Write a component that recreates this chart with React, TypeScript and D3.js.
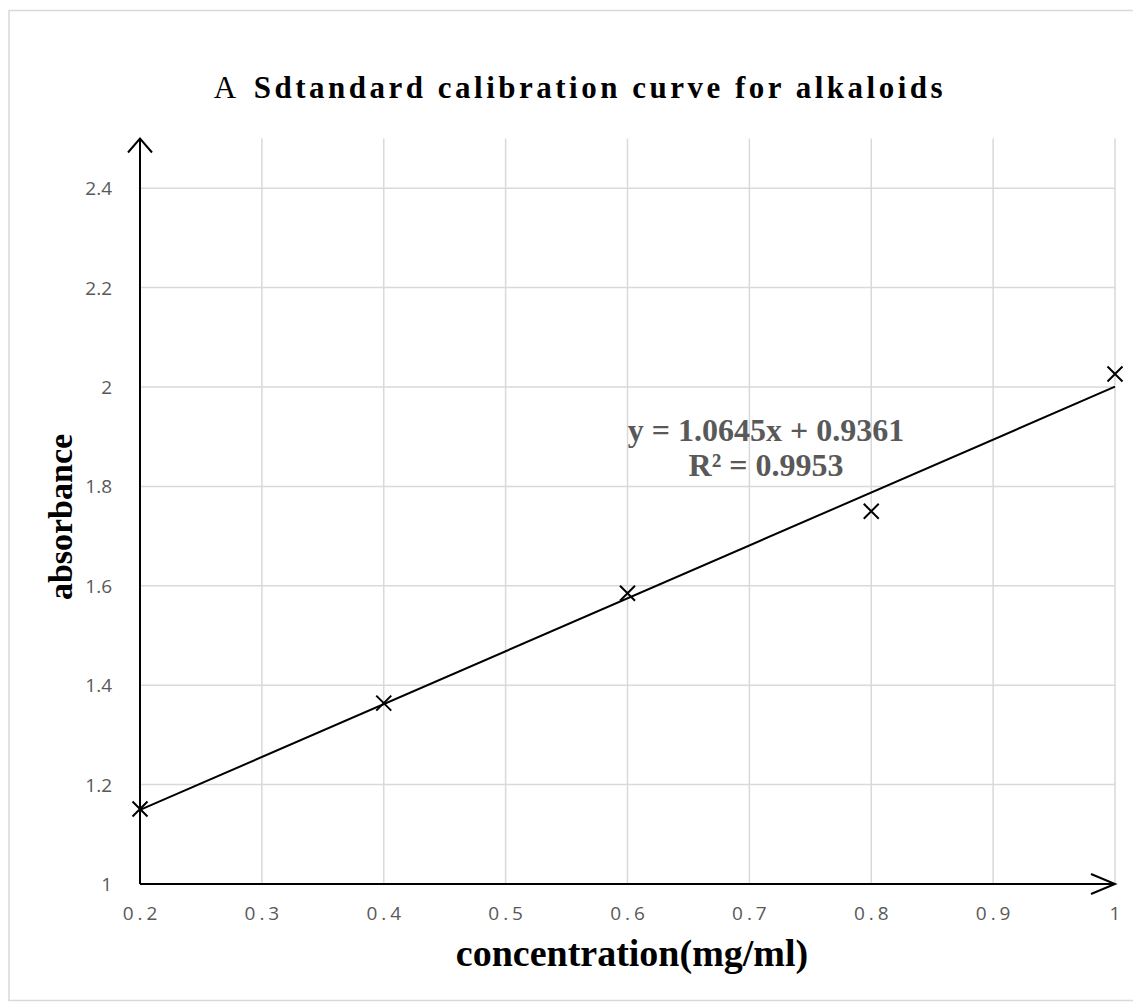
import React, { useEffect, useRef } from 'react';
import * as d3 from 'd3';

// concentration (mg/ml) and measured absorbance
const concentration = [0.2, 0.4, 0.6, 0.8, 1.0];
const absorbance = [1.151, 1.364, 1.585, 1.75, 2.026];
const xTicks = [0.2, 0.3, 0.4, 0.5, 0.6, 0.7, 0.8, 0.9, 1];
const yTicks = [1, 1.2, 1.4, 1.6, 1.8, 2, 2.2, 2.4];
const slope = 1.0645;
const intercept = 0.9361;
const rSquared = 0.9953;

const App = () => {
  const ref = useRef(null);

  useEffect(() => {
    const svg = d3.select(ref.current);
    svg.selectAll('*').remove();

    const width = 1133;
    const height = 994;
    const grid = '#d9d9d9';
    const grey = '#595959';
    const serif = '"Liberation Serif", "Times New Roman", serif';
    const sans = '"Open Sans", "Noto Sans", sans-serif';

    const x = d3.scaleLinear().domain([0.2, 1]).range([132, 1107]);
    const y = d3.scaleLinear().domain([1, 2.5]).range([876, 130.5]);

    // chart border
    svg.append('rect')
      .attr('x', 1).attr('y', 2.5)
      .attr('width', width - 2).attr('height', height - 4)
      .attr('fill', 'white')
      .attr('stroke', grid).attr('stroke-width', 1.5);

    // gridlines
    svg.append('g').selectAll('line')
      .data(yTicks.slice(1))
      .enter().append('line')
      .attr('x1', x(0.2)).attr('x2', x(1))
      .attr('y1', d => y(d)).attr('y2', d => y(d))
      .attr('stroke', grid).attr('stroke-width', 1.5);

    svg.append('g').selectAll('line')
      .data(xTicks.slice(1))
      .enter().append('line')
      .attr('x1', d => x(d)).attr('x2', d => x(d))
      .attr('y1', y(1)).attr('y2', y(2.5))
      .attr('stroke', grid).attr('stroke-width', 1.5);

    // tick labels
    svg.append('g').selectAll('text')
      .data(yTicks)
      .enter().append('text')
      .attr('x', 104).attr('y', d => y(d) + 7)
      .attr('text-anchor', 'end')
      .attr('font-family', sans).attr('font-size', 19)
      .attr('fill', grey)
      .text(d => d3.format('')(d));

    svg.append('g').selectAll('text')
      .data(xTicks)
      .enter().append('text')
      .attr('x', d => x(d) + 2).attr('y', 912)
      .attr('text-anchor', 'middle')
      .attr('font-family', sans).attr('font-size', 19)
      .attr('letter-spacing', 4)
      .attr('fill', grey)
      .text(d => d3.format('')(d));

    // axes with open arrowheads
    const axis = svg.append('g').attr('stroke', 'black').attr('stroke-width', 2).attr('fill', 'none');
    axis.append('path').attr('d', `M${x(0.2)},${y(1)}V${y(2.5)}`);
    axis.append('path').attr('d', `M${x(0.2) - 12},${y(2.5) + 14}L${x(0.2)},${y(2.5)}L${x(0.2) + 12},${y(2.5) + 14}`);
    axis.append('path').attr('d', `M${x(0.2)},${y(1)}H${x(1)}`);
    axis.append('path').attr('d', `M${x(1) - 24},${y(1) - 10}L${x(1)},${y(1)}L${x(1) - 24},${y(1) + 10}`);

    // linear trendline
    svg.append('path')
      .datum([0.2, 1])
      .attr('d', d3.line<number>().x(d => x(d)).y(d => y(slope * d + intercept)))
      .attr('stroke', 'black').attr('stroke-width', 2).attr('fill', 'none');

    // x markers
    const pts = concentration.map((c, i) => [c, absorbance[i]]);
    svg.append('g').selectAll('path')
      .data(pts)
      .enter().append('path')
      .attr('d', d => {
        const cx = x(d[0]); const cy = y(d[1]); const r = 7.5;
        return `M${cx - r},${cy - r}L${cx + r},${cy + r}M${cx - r},${cy + r}L${cx + r},${cy - r}`;
      })
      .attr('stroke', 'black').attr('stroke-width', 2);

    // equation
    const eq = svg.append('g')
      .attr('text-anchor', 'middle')
      .attr('font-family', serif).attr('font-weight', 'bold').attr('font-size', 32)
      .attr('fill', grey);
    eq.append('text').attr('x', 758).attr('y', 433).text(`y = ${slope}x + ${intercept}`);
    eq.append('text').attr('x', 758).attr('y', 468).text(`R² = ${rSquared}`);

    // title
    const title = svg.append('text')
      .attr('x', 572).attr('y', 90)
      .attr('text-anchor', 'middle')
      .attr('font-family', serif).attr('font-size', 31)
      .attr('letter-spacing', 3.5)
      .attr('fill', 'black');
    title.append('tspan').text('A');
    title.append('tspan').attr('dx', 14).attr('font-weight', 'bold').text('Sdtandard calibration curve for alkaloids');

    // axis titles
    svg.append('text')
      .attr('x', 624).attr('y', 958)
      .attr('text-anchor', 'middle')
      .attr('font-family', serif).attr('font-weight', 'bold').attr('font-size', 38)
      .text('concentration(mg/ml)');

    svg.append('text')
      .attr('transform', 'translate(64,509) rotate(-90)')
      .attr('text-anchor', 'middle')
      .attr('font-family', serif).attr('font-weight', 'bold').attr('font-size', 34)
      .text('absorbance');
  }, []);

  return <svg ref={ref} width={1133} height={994} style={{ display: 'block' }}></svg>;
};

export default App;
